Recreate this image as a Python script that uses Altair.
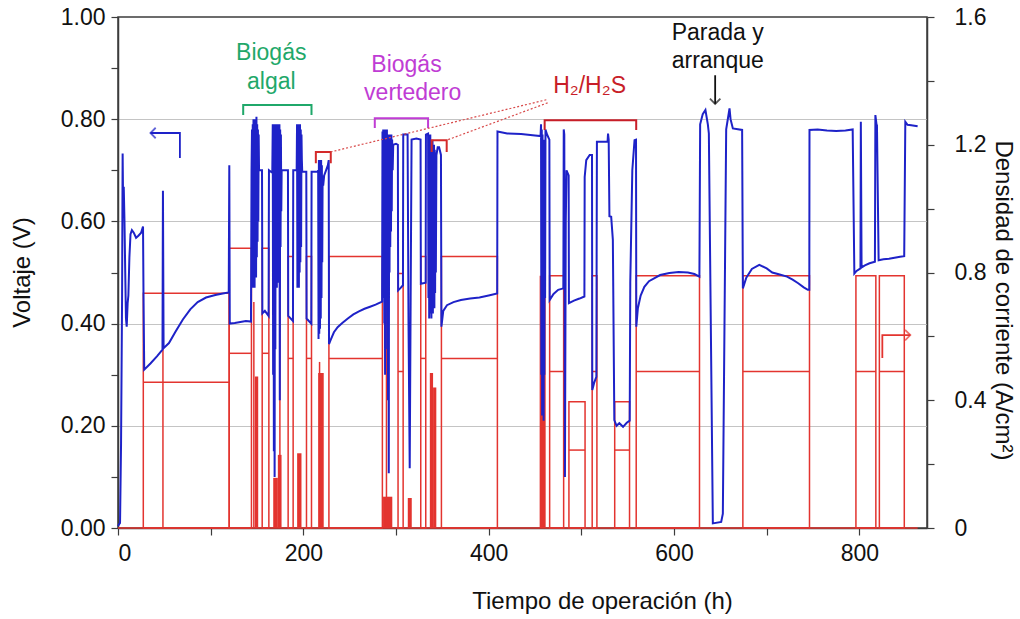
import altair as alt
import pandas as pd

# ---------------- data ----------------
# Cell voltage (h, V), split by operating period
v_startup = [
    (0, 0.004), (2.2, 0.01), (3.3, 0.166), (4.4, 0.45), (5.0, 0.733), (5.6, 0.62),
    (6.2, 0.668), (7.0, 0.60), (7.8, 0.50), (8.6, 0.41), (9.4, 0.394), (10.4, 0.44),
    (11.2, 0.455), (12.3, 0.53), (13.5, 0.575), (15.0, 0.583), (17.0, 0.578),
    (19.5, 0.568), (22.0, 0.572), (25.0, 0.578), (27.0, 0.59), (27.5, 0.46),
    (28.3, 0.31), (35, 0.322), (42, 0.336), (48, 0.349), (48.5, 0.66), (49.2, 0.352),
    (55, 0.362), (62, 0.384), (70, 0.408), (78, 0.428), (86, 0.442), (95, 0.451),
    (105, 0.456), (113, 0.459), (119.5, 0.461), (120.1, 0.71), (120.6, 0.40),
    (126, 0.401), (132, 0.403), (138, 0.405), (143.5, 0.404),
]
v_algal = [
    (144.1, 0.70), (144.6, 0.78), (145.0, 0.52), (145.4, 0.79), (145.8, 0.47),
    (146.2, 0.80), (146.6, 0.48), (147.0, 0.79), (147.4, 0.47), (147.8, 0.80),
    (148.2, 0.50), (148.6, 0.79), (149.0, 0.49), (149.4, 0.805), (149.8, 0.53),
    (150.2, 0.79), (150.6, 0.56), (151.0, 0.78), (151.4, 0.60), (151.8, 0.77),
    (152.2, 0.70), (155.4, 0.70), (155.8, 0.42), (158.5, 0.425), (162.5, 0.415),
    (162.9, 0.70), (166.5, 0.695),
    (167.0, 0.79), (167.4, 0.30), (167.8, 0.78), (168.2, 0.15), (168.6, 0.79),
    (169.0, 0.10), (169.4, 0.79), (169.8, 0.35), (170.2, 0.78), (170.6, 0.48),
    (171.0, 0.79), (171.4, 0.47), (171.8, 0.78), (172.2, 0.50), (172.6, 0.79),
    (173.0, 0.48), (173.4, 0.78), (173.8, 0.52), (174.2, 0.79), (174.6, 0.25),
    (175.0, 0.78), (175.4, 0.55), (175.8, 0.77), (176.2, 0.62), (176.6, 0.70),
    (183.4, 0.70), (183.7, 0.415), (188.8, 0.405), (189.1, 0.70), (192.8, 0.70),
    (193.2, 0.79), (193.6, 0.47), (194.0, 0.79), (194.4, 0.48), (194.8, 0.78),
    (195.2, 0.47), (195.6, 0.79), (196.0, 0.50), (196.4, 0.79), (196.8, 0.52),
    (197.2, 0.78), (197.6, 0.55), (198.0, 0.77), (198.4, 0.72),
    (198.8, 0.697), (203.2, 0.697), (203.5, 0.41), (208.6, 0.40), (208.9, 0.697),
    (215.5, 0.697),
    (216.0, 0.70), (216.4, 0.37), (216.8, 0.72), (217.2, 0.38), (217.6, 0.71),
    (218.0, 0.39), (218.4, 0.72), (218.8, 0.41), (219.2, 0.72), (219.6, 0.45),
    (220.0, 0.71), (220.4, 0.52), (220.8, 0.69), (221.4, 0.67),
    (222.5, 0.69), (224.5, 0.70), (226.5, 0.71), (227.4, 0.72), (227.7, 0.36),
]
v_landfill = [
    (229.5, 0.368), (233, 0.383), (237, 0.393), (242, 0.401), (248, 0.41),
    (254, 0.418), (260, 0.424), (266, 0.429), (272, 0.433), (278, 0.437),
    (285, 0.443),
    (285.4, 0.776), (285.8, 0.55), (286.2, 0.78), (286.6, 0.45), (287.0, 0.78),
    (287.4, 0.40), (287.8, 0.77), (288.2, 0.30), (288.6, 0.78), (289.0, 0.45),
    (289.4, 0.77), (289.8, 0.50), (290.2, 0.78), (290.6, 0.35), (291.0, 0.76),
    (291.4, 0.25), (291.8, 0.77), (292.2, 0.107), (292.6, 0.76), (293.0, 0.50),
    (293.4, 0.77), (293.8, 0.55), (294.2, 0.76), (294.6, 0.58), (295.0, 0.77),
    (295.4, 0.62), (295.8, 0.76), (296.4, 0.70),
    (297, 0.75), (300, 0.752), (302.0, 0.75), (302.3, 0.465), (305, 0.47),
    (307.5, 0.475), (307.8, 0.77), (312.5, 0.77), (313.5, 0.40), (314.8, 0.117),
    (315.8, 0.45), (316.8, 0.76), (322, 0.762), (326.5, 0.76), (326.8, 0.478),
    (332.0, 0.48), (332.3, 0.77),
    (334.6, 0.772), (335.0, 0.45), (335.4, 0.77), (335.8, 0.41), (336.2, 0.76),
    (336.6, 0.42), (337.0, 0.77), (337.4, 0.43), (337.8, 0.76), (338.2, 0.41),
    (338.6, 0.75), (339.0, 0.44), (339.4, 0.76), (339.8, 0.42), (340.2, 0.74),
    (340.6, 0.45), (341.0, 0.75), (341.4, 0.43), (341.8, 0.74), (342.2, 0.46),
    (342.6, 0.73), (343.0, 0.50), (343.6, 0.73),
    (345, 0.745), (346.5, 0.745), (348.5, 0.73), (349.0, 0.394), (351, 0.425),
    (355, 0.436), (362, 0.442), (370, 0.446), (380, 0.449), (390, 0.451),
    (400, 0.455), (409.2, 0.459),
]
v_h2s = [
    (409.5, 0.776), (420, 0.772), (435, 0.771), (450, 0.768), (456.0, 0.767),
    (456.5, 0.79), (456.9, 0.30), (457.3, 0.78), (457.7, 0.22), (458.1, 0.77),
    (458.5, 0.25), (458.9, 0.76), (459.3, 0.21), (459.7, 0.75), (460.1, 0.30),
    (460.5, 0.76), (460.9, 0.45), (461.3, 0.78),
    (463, 0.77), (465.5, 0.76), (465.8, 0.446), (470, 0.458),
    (475, 0.466), (480.6, 0.469), (481.0, 0.78), (481.6, 0.77), (482.3, 0.10),
    (483.2, 0.60), (484, 0.70), (486.3, 0.69), (486.6, 0.44), (492, 0.445),
    (498, 0.449), (503.3, 0.453), (503.6, 0.687), (505.3, 0.72), (509, 0.73),
    (511.5, 0.73), (511.8, 0.27), (514, 0.285), (516.2, 0.296), (516.8, 0.756),
    (528.3, 0.756), (528.8, 0.772), (529.5, 0.76), (530.3, 0.61), (532.2, 0.609),
    (534.0, 0.564), (535.6, 0.211), (538, 0.20), (541, 0.205), (545, 0.198),
    (549, 0.206), (552.2, 0.21), (552.8, 0.48), (555, 0.70), (557.4, 0.759),
    (559.0, 0.76),
]
v_restart = [
    (559.3, 0.394), (561, 0.43), (564, 0.455), (568, 0.472), (573, 0.483),
    (579, 0.489), (585, 0.495), (595, 0.499), (605, 0.501), (615, 0.50),
    (622, 0.497), (627.4, 0.492), (628.2, 0.79), (631, 0.81), (633.9, 0.818),
    (636.5, 0.79), (637.6, 0.772), (641.9, 0.009), (650.9, 0.012), (652.7, 0.028),
    (656.3, 0.78), (659.9, 0.821), (661, 0.80), (663.5, 0.782), (673.5, 0.779),
    (674.3, 0.469), (678, 0.49), (684, 0.507), (692, 0.515), (700, 0.508),
    (706, 0.50), (714, 0.496), (722, 0.492), (728, 0.486), (734, 0.479),
    (740, 0.471), (744.4, 0.466), (746.0, 0.466),
]
v_final = [
    (746.2, 0.779), (755, 0.78), (765, 0.778), (775, 0.777), (785, 0.778),
    (792.8, 0.78), (794.6, 0.498), (797, 0.503), (801.2, 0.508), (801.6, 0.795),
    (802.4, 0.51), (806, 0.514), (811, 0.518), (816.8, 0.521), (817.3, 0.808),
    (818.5, 0.79), (819, 0.788), (820.8, 0.524), (826, 0.526), (832, 0.527),
    (838, 0.529), (844, 0.531), (848.4, 0.532), (849.6, 0.795), (852, 0.789),
    (856, 0.788), (862.9, 0.786),
]

# Current density (A/cm2): steady windows (start h, end h, upper level, lower level)
j_windows = [
    (27.3, 120.0, 0.735, 0.456), (120.0, 144.0, 0.876, 0.547),
    (155.6, 162.8, 0.876, 0.547), (183.6, 189.0, 0.850, 0.531),
    (203.4, 208.8, 0.850, 0.531), (227.6, 285.3, 0.850, 0.531),
    (302.2, 307.7, 0.797, 0.490), (326.7, 332.1, 0.850, 0.531),
    (349.0, 409.4, 0.850, 0.531), (465.8, 480.9, 0.790, 0.490),
    (486.6, 504.0, 0.395, 0.244), (511.7, 516.8, 0.790, 0.490),
    (536.0, 552.0, 0.395, 0.244), (559.2, 627.5, 0.790, 0.490),
    (674.3, 746.2, 0.790, 0.490), (796.3, 817.8, 0.790, 0.490),
    (821.6, 848.5, 0.790, 0.490),
]
# rapid cycling bursts (start h, end h, peak A/cm2)
j_bursts = [
    (147.7, 151.3, 0.474), (167.5, 172.5, 0.157), (172.5, 176.5, 0.229),
    (193.3, 198.0, 0.234), (216.0, 222.0, 0.485), (286.0, 296.0, 0.098),
    (312.7, 317.0, 0.094), (336.5, 340.0, 0.485), (340.0, 343.5, 0.44),
    (455.0, 461.5, 0.790),
]
# single current pulses (h, A/cm2)
j_pulses = [(48.5, 0.80), (146.6, 0.708), (174.7, 0.876), (217.5, 0.52), (289.7, 0.797)]
t_end = 862.9

# tick positions
x_ticks = list(range(0, 900, 100))
v_ticks = [round(i * 0.1, 1) for i in range(11)]
j_ticks = [round(i * 0.2, 1) for i in range(9)]

# annotations: text (h, V, label, colour)
notes = [
    (165.4, 0.930, "Biogás", "#1fa86a"), (165.4, 0.873, "algal", "#1fa86a"),
    (311.3, 0.906, "Biogás", "#c03cd4"), (318.0, 0.851, "vertedero", "#c03cd4"),
    (508.9, 0.864, "H₂/H₂S", "#c81e28"),
    (647.2, 0.969, "Parada y", "#111111"), (647.2, 0.913, "arranque", "#111111"),
]
# bracket polylines in voltage units: (group, h, V)
brackets = [
    ("g", 135.1, 0.808), ("g", 135.1, 0.828), ("g", 208.8, 0.828), ("g", 208.8, 0.808),
    ("m", 277.1, 0.783), ("m", 277.1, 0.802), ("m", 334.6, 0.802), ("m", 334.6, 0.783),
    ("r", 460.4, 0.779), ("r", 460.4, 0.798), ("r", 559.2, 0.798), ("r", 559.2, 0.779),
    ("s1", 213.5, 0.714), ("s1", 213.5, 0.736), ("s1", 229.6, 0.736), ("s1", 229.6, 0.714),
    ("s2", 338.5, 0.736), ("s2", 338.5, 0.759), ("s2", 354.7, 0.759), ("s2", 354.7, 0.736),
]
bracket_colours = {"g": "#1fa86a", "m": "#c03cd4", "r": "#c81e28", "s1": "#d42a2a", "s2": "#d42a2a"}
leaders = [("d1", 462.2, 0.838), ("d1", 229.6, 0.736), ("d2", 463.6, 0.832), ("d2", 354.7, 0.759)]
v_arrows = [
    ("blue", 66.8, 0.724), ("blue", 66.8, 0.773), ("blue", 35.0, 0.773),
    ("black", 644.4, 0.886), ("black", 644.4, 0.830),
]
j_arrow = [(824.8, 0.532), (824.8, 0.604), (855.0, 0.604)]

BLUE = "#1e22c8"
RED = "#e3342f"
FONT = "Liberation Sans"

# ---------------- frames ----------------
def trace(parts):
    rows = [p for part in parts for p in part]
    df = pd.DataFrame(rows, columns=["h", "v"])
    df["o"] = range(len(df))
    return df

volt = trace([v_startup, v_algal, v_landfill, v_h2s, v_restart, v_final])
win = pd.DataFrame(j_windows, columns=["t0", "t1", "hi", "lo"])
win["base"] = 0.0
bur = pd.DataFrame(j_bursts, columns=["t0", "t1", "hi"])
bur["base"] = 0.0
pul = pd.DataFrame(j_pulses, columns=["h", "hi"])
pul["base"] = 0.0
basel = pd.DataFrame({"t0": [0.0], "t1": [t_end], "j": [0.0]})
txt = pd.DataFrame(notes, columns=["h", "v", "label", "c"])
br = pd.DataFrame(brackets, columns=["g", "h", "v"])
br["o"] = range(len(br))
br["c"] = br["g"].map(bracket_colours)
ld = pd.DataFrame(leaders, columns=["g", "h", "v"])
ld["o"] = range(len(ld))
va = pd.DataFrame(v_arrows, columns=["g", "h", "v"])
va["o"] = range(len(va))
va["c"] = va["g"].map({"blue": BLUE, "black": "#111111"})
ja = pd.DataFrame(j_arrow, columns=["h", "j"])
ja["o"] = range(len(ja))

heads_v = pd.DataFrame({
    "h": [v_arrows[2][1], v_arrows[4][1]],
    "v": [v_arrows[2][2], v_arrows[4][2]],
    "shape": ["M1,-1L0,0L1,1", "M-1,-1L0,0L1,-1"],
    "c": [BLUE, "#111111"],
})
heads_j = pd.DataFrame({"h": [j_arrow[-1][0]], "j": [j_arrow[-1][1]], "shape": ["M-1,-1L0,0L-1,1"]})

# ---------------- scales & axes ----------------
xs = alt.Scale(domain=[0, 873], nice=False, zero=False)
vs = alt.Scale(domain=[0, 1], nice=False)
js = alt.Scale(domain=[0, 1.6], nice=False)

x_axis = alt.Axis(
    values=x_ticks, labelExpr="datum.value % 200 == 0 ? datum.label : ''",
    grid=False, title="Tiempo de operación (h)", titleX=484, titleY=73,
    titleBaseline="middle", titleAlign="center", labelPadding=7,
)
v_axis = alt.Axis(
    orient="left", values=v_ticks,
    labelExpr="round(datum.value * 10) % 2 == 0 ? format(datum.value, '.2f') : ''",
    grid=True, gridColor="#c4c4c4", gridWidth=1,
    gridOpacity={"condition": {"test": "round(datum.value * 10) % 2 == 0 && datum.value > 0.05 && datum.value < 0.95", "value": 1}, "value": 0},
    title="Voltaje (V)", titleX=-96, titleY=255, titleAngle=270,
    titleBaseline="middle", titleAlign="center", labelPadding=6,
)
j_axis = alt.Axis(
    orient="right", values=j_ticks, grid=False,
    labelExpr="round(datum.value * 10) % 4 == 0 ? (datum.value == 0 ? '0' : format(datum.value, '.1f')) : ''",
    title="Densidad de corriente (A/cm²)", titleX=75, titleY=283, titleAngle=90,
    titleBaseline="middle", titleAlign="center", labelPadding=20,
)

X = lambda f: alt.X(f, scale=xs, axis=x_axis)
YV = lambda f: alt.Y(f, scale=vs, axis=v_axis)
YJ = lambda f: alt.Y(f, scale=js, axis=j_axis)

# ---------------- current-density layers ----------------
win_box = alt.Chart(win).mark_rect(fillOpacity=0, stroke=RED, strokeWidth=1.5).encode(
    x=X("t0:Q"), x2="t1", y=YJ("hi:Q"), y2="base",
)
win_mid = alt.Chart(win).mark_rule(color=RED, strokeWidth=1.5).encode(
    x=X("t0:Q"), x2="t1", y=YJ("lo:Q"),
)
bursts = alt.Chart(bur).mark_rect(color=RED).encode(
    x=X("t0:Q"), x2="t1", y=YJ("hi:Q"), y2="base",
)
pulses = alt.Chart(pul).mark_rule(color=RED, strokeWidth=1.5).encode(
    x=X("h:Q"), y=YJ("hi:Q"), y2="base",
)
baseline = alt.Chart(basel).mark_rule(color=RED, strokeWidth=1.5).encode(
    x=X("t0:Q"), x2="t1", y=YJ("j:Q"),
)
j_arrow_line = alt.Chart(ja).mark_line(color=RED, strokeWidth=1.8).encode(
    x=X("h:Q"), y=YJ("j:Q"), order="o:Q",
)
j_arrow_head = alt.Chart(heads_j).mark_point(color=RED, filled=False, strokeWidth=1.8, size=110).encode(
    x=X("h:Q"), y=YJ("j:Q"), shape=alt.Shape("shape:N", scale=None),
)
current = alt.layer(win_box, win_mid, bursts, pulses, baseline, j_arrow_line, j_arrow_head)

# ---------------- voltage layers ----------------
volt_line = alt.Chart(volt).mark_line(color=BLUE, strokeWidth=2).encode(
    x=X("h:Q"), y=YV("v:Q"), order="o:Q",
)
bracket_lines = alt.Chart(br).mark_line(strokeWidth=2).encode(
    x=X("h:Q"), y=YV("v:Q"), detail="g:N", order="o:Q", color=alt.Color("c:N", scale=None),
)
leader_lines = alt.Chart(ld).mark_line(color="#d84a4a", strokeWidth=1.2, strokeDash=[2, 2]).encode(
    x=X("h:Q"), y=YV("v:Q"), detail="g:N", order="o:Q",
)
arrow_lines = alt.Chart(va).mark_line(strokeWidth=1.8).encode(
    x=X("h:Q"), y=YV("v:Q"), detail="g:N", order="o:Q", color=alt.Color("c:N", scale=None),
)
arrow_heads = alt.Chart(heads_v).mark_point(filled=False, strokeWidth=1.8, size=110).encode(
    x=X("h:Q"), y=YV("v:Q"),
    shape=alt.Shape("shape:N", scale=None), color=alt.Color("c:N", scale=None),
)
labels = alt.Chart(txt).mark_text(font=FONT, fontSize=23, baseline="middle", align="center").encode(
    x=X("h:Q"), y=YV("v:Q"), text="label:N", color=alt.Color("c:N", scale=None),
)
voltage = alt.layer(volt_line, bracket_lines, leader_lines, arrow_lines, arrow_heads, labels)

chart = alt.layer(current, voltage).resolve_scale(y="independent").properties(
    width=809, height=511, background="white",
    autosize=alt.AutoSizeParams(type="none"),
    padding={"left": 118, "top": 17, "right": 93, "bottom": 91},
).configure_view(
    stroke="#3c3c3c", strokeWidth=1.5,
).configure_axis(
    labelFont=FONT, titleFont=FONT, labelFontSize=23, titleFontSize=24,
    labelColor="#111111", titleColor="#111111", titleFontWeight="normal",
    domainColor="#3c3c3c", domainWidth=1.5, tickColor="#3c3c3c", tickWidth=1.2,
    tickSize=7,
)

chart.save("out.html", embed_options={"renderer": "svg", "actions": False})
